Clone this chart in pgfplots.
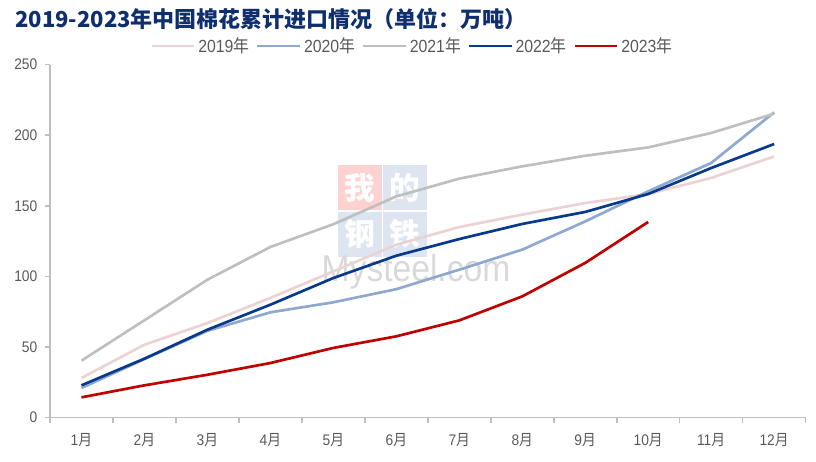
\documentclass[border=0pt]{standalone}
\usepackage{fontspec}
\setmainfont{Liberation Sans}[FakeStretch=0.9]
\newfontfamily\cjk{Noto Sans CJK SC}
\newfontfamily\cjkn{Noto Sans CJK SC}[FakeStretch=0.9]
\usepackage{pgfplots}
\pgfplotsset{compat=1.18}

\definecolor{c19}{HTML}{EBD3D3}
\definecolor{c20}{HTML}{8EA8D0}
\definecolor{c21}{HTML}{BFBFBF}
\definecolor{c22}{HTML}{073A8B}
\definecolor{c23}{HTML}{C00000}
\definecolor{ttl}{HTML}{0F2E6E}
\definecolor{txt}{HTML}{595959}
\definecolor{axl}{HTML}{BFBFBF}

\newcommand{\yue}{{\cjkn 月}}
\newcommand{\nian}{{\cjkn 年}}

\begin{document}
\begin{tikzpicture}
\path[use as bounding box] (0,0) rectangle (612pt,345.75pt);

% watermark
\fill[fill=red!60!pink, opacity=0.25] (253.5pt,188.25pt) rectangle (286.5pt,222pt);
\fill[fill=c20, opacity=0.3] (287.25pt,188.25pt) rectangle (320.25pt,222pt);
\fill[fill=c20, opacity=0.3] (253.5pt,153pt) rectangle (286.5pt,186.75pt);
\fill[fill=c20, opacity=0.3] (287.25pt,153pt) rectangle (320.25pt,186.75pt);
\node[text=white, font=\cjk\bfseries\fontsize{23}{23}\selectfont] at (270pt,205pt) {我};
\node[text=white, font=\cjk\bfseries\fontsize{23}{23}\selectfont] at (303.75pt,205pt) {的};
\node[text=white, font=\cjk\bfseries\fontsize{23}{23}\selectfont] at (270pt,170pt) {钢};
\node[text=white, font=\cjk\bfseries\fontsize{23}{23}\selectfont] at (303.75pt,170pt) {铁};
\node[text=black!15, font=\fontsize{28}{28}\selectfont] at (312pt,142pt) {Mysteel.com};

\node[anchor=west, text=ttl, font=\cjk\bfseries\fontsize{16.5}{18}\selectfont] at (8pt,331.5pt) {2019-2023年中国棉花累计进口情况（单位：万吨）};

\begin{axis}[
  at={(37.5pt,32.5pt)}, anchor=south west,
  width=566.7pt, height=264.75pt, scale only axis,
  xmin=0.5, xmax=12.5, ymin=0, ymax=250,
  axis x line*=bottom, axis y line*=left,
  axis line style={axl, line width=1.2pt, -},
  xtick={1,...,12},
  xticklabels={1\yue,2\yue,3\yue,4\yue,5\yue,6\yue,7\yue,8\yue,9\yue,10\yue,11\yue,12\yue},
  minor xtick={0.5,1.5,...,12.5},
  major x tick style={draw=none},
  minor x tick style={axl, line width=1.2pt},
  minor tick length=4pt,
  ytick={0,50,...,250},
  y tick style={axl, line width=1.2pt},
  major tick length=4pt,
  tick align=outside,
  ticklabel style={text=txt, font=\fontsize{11.5}{12}\selectfont},
  /pgf/number format/assume math mode=true,
  xticklabel style={yshift=-4pt},
  yticklabel style={xshift=-2pt},
  legend columns=5,
  legend style={at={(0.48,1.053)}, anchor=center, draw=none, fill=none,
    font=\fontsize{13.2}{14}\selectfont, text=txt,
    /tikz/every even column/.append style={column sep=3pt},
    inner sep=0pt},
  legend image code/.code={\draw[#1] (0pt,0pt) -- (32pt,0pt);},
  clip=false,
]
\addplot[c19, line width=2pt] coordinates {(1,28.1) (2,51.7) (3,67) (4,84.8) (5,103.6) (6,122.5) (7,135) (8,143.8) (9,152) (10,158.4) (11,169.8) (12,185)};
\addlegendentry{2019\nian}
\addplot[c20, line width=2pt] coordinates {(1,21.0) (2,41.5) (3,61.5) (4,74.6) (5,81.7) (6,91) (7,104.8) (8,119) (9,139) (10,160.3) (11,180.4) (12,216.2)};
\addlegendentry{2020\nian}
\addplot[c21, line width=2pt] coordinates {(1,40.4) (2,69) (3,97.7) (4,120.9) (5,137) (6,156.7) (7,169.3) (8,178) (9,185.5) (10,191.4) (11,201.6) (12,215.3)};
\addlegendentry{2021\nian}
\addplot[c22, line width=2pt] coordinates {(1,22.9) (2,41.8) (3,62.3) (4,80) (5,98.9) (6,114.7) (7,126.5) (8,137.2) (9,145.7) (10,158.4) (11,176.8) (12,193.8)};
\addlegendentry{2022\nian}
\addplot[c23, line width=2pt] coordinates {(1,14.4) (2,22.9) (3,30.4) (4,38.7) (5,49.4) (6,57.6) (7,68.9) (8,85.9) (9,109.6) (10,138.6)};
\addlegendentry{2023\nian}
\end{axis}
\end{tikzpicture}
\end{document}
